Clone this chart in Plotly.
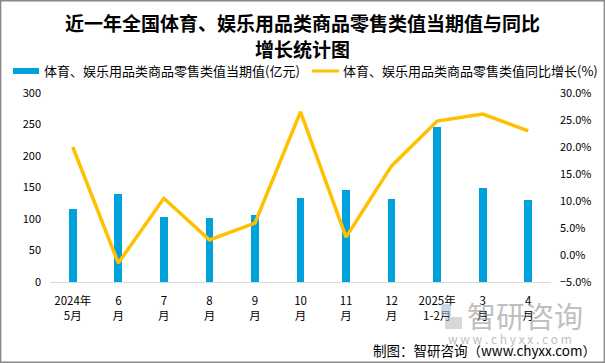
import plotly.graph_objects as go

categories = ["2024年<br>5月", "6<br>月", "7<br>月", "8<br>月", "9<br>月", "10<br>月",
              "11<br>月", "12<br>月", "2025年<br>1-2月", "3<br>月", "4<br>月"]
retail_value = [116, 140, 103, 102, 106, 133, 146, 132, 246, 149, 130]
yoy_growth = [20.0, -1.5, 10.5, 2.8, 5.9, 26.5, 3.3, 16.5, 24.8, 26.1, 23.0]

bar_name = "体育、娱乐用品类商品零售类值当期值(亿元)"
line_name = "体育、娱乐用品类商品零售类值同比增长(%)"

FONT = "Noto Sans CJK SC, Microsoft YaHei, sans-serif"
BLUE = "#00a2dc"
GOLD = "#ffc000"

fig = go.Figure()
fig.add_trace(go.Bar(x=categories, y=retail_value, name=bar_name,
                     marker=dict(color=BLUE, line=dict(width=0)),
                     width=0.17, yaxis="y"))
fig.add_trace(go.Scatter(x=categories, y=yoy_growth, name=line_name,
                         mode="lines", line=dict(color=GOLD, width=3.5),
                         yaxis="y2"))

fig.update_layout(
    width=605, height=363,
    margin=dict(l=50, r=54, t=93, b=81),
    paper_bgcolor="white", plot_bgcolor="white",
    showlegend=False,
    font=dict(family=FONT, size=11, color="#000000"),
    xaxis=dict(showgrid=False, showline=True, linecolor="#d9d9d9", linewidth=1,
               ticks="", tickfont=dict(size=11.5, color="#000"), fixedrange=True,
               ticklabelstandoff=8),
    yaxis=dict(range=[0, 300], dtick=50, showgrid=False, zeroline=False,
               showline=False, ticks="", tickfont=dict(size=11, color="#000"),
               ticklabelstandoff=8),
    yaxis2=dict(range=[-5, 30], dtick=5, overlaying="y", side="right",
                showgrid=False, zeroline=False, showline=False,
                tickformat=".1f", ticksuffix="%", ticks="",
                tickfont=dict(size=11, color="#000"), ticklabelstandoff=8),
    bargap=0.0,
)

shapes = []
out_ann = []

def py(pix):
    return 1 - pix / 363.0

def px(pix):
    return pix / 605.0

def text(t, x, y, size, color="#000", anchor="center", opacity=1.0):
    out_ann.append(dict(text=t, xref="paper", yref="paper", x=px(x), y=py(y),
                        xanchor=anchor, yanchor="middle", showarrow=False,
                        opacity=opacity, font=dict(family=FONT, size=size, color=color)))

# title
text("<b>近一年全国体育、娱乐用品类商品零售类值当期值与同比</b>", 302.5, 23, 19)
text("<b>增长统计图</b>", 302.5, 48.5, 19)

# legend (custom)
shapes.append(dict(type="rect", xref="paper", yref="paper",
                   x0=px(13), x1=px(39), y0=py(74), y1=py(68),
                   fillcolor=BLUE, line=dict(width=0)))
text(bar_name, 42, 71, 13, anchor="left")
shapes.append(dict(type="line", xref="paper", yref="paper",
                   x0=px(312), x1=px(339), y0=py(71), y1=py(71),
                   line=dict(color=GOLD, width=3)))
text(line_name, 341, 71, 13, anchor="left")

# watermark
shapes.append(dict(type="rect", xref="paper", yref="paper",
                   x0=px(441), x1=px(451), y0=py(316), y1=py(304),
                   fillcolor="#a9c0d8", line=dict(width=0), layer="above", opacity=0.6))
shapes.append(dict(type="rect", xref="paper", yref="paper",
                   x0=px(445), x1=px(462), y0=py(329), y1=py(317),
                   fillcolor="#bdbdbd", line=dict(width=0), layer="above", opacity=0.6))
text("智研咨询", 465, 315, 29, color="#8c8c8c", anchor="left", opacity=0.55)
text("w w w . c h y x x . c o m", 510, 338, 12, color="#8c8c8c", opacity=0.55)
text("制图：智研咨询（www.chyxx.com）", 598, 350, 13.5, anchor="right")

# border
shapes.append(dict(type="rect", xref="paper", yref="paper", x0=0.001, x1=0.999, y0=0.002, y1=0.998,
                   line=dict(color="#888888", width=1.5), fillcolor="rgba(0,0,0,0)"))

L, R, T, B = 50, 54, 93, 81
W, H = 605 - L - R, 363 - T - B

def conv_x(v):
    return (v * 605 - L) / W

def conv_y(v):
    return ((v * 363) - B) / H

for a in out_ann:
    a["x"] = conv_x(a["x"])
    a["y"] = conv_y(a["y"])
for s in shapes:
    for k in ("x0", "x1"):
        s[k] = conv_x(s[k])
    for k in ("y0", "y1"):
        s[k] = conv_y(s[k])

fig.update_layout(annotations=out_ann, shapes=shapes)
fig.write_html("out.html", config={"displayModeBar": False},
               post_script="document.body.style.margin='0';document.body.style.overflow='hidden';")
